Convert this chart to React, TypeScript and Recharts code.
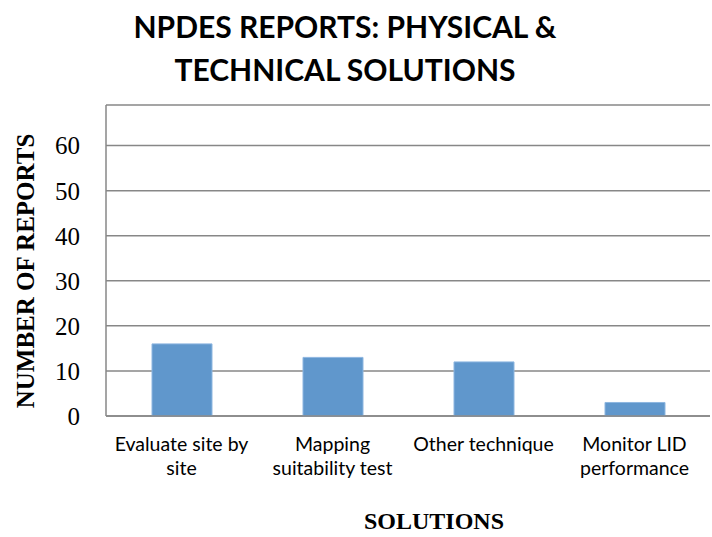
import React from "react";
import { BarChart, Bar, XAxis, YAxis, CartesianGrid } from "recharts";

const categories = ["Evaluate site by\nsite", "Mapping\nsuitability test", "Other technique", "Monitor LID\nperformance"];
const reports = [16, 13, 12, 3];
const yTicks = [0, 10, 20, 30, 40, 50, 60];
const titleLines = ["NPDES REPORTS: PHYSICAL &", "TECHNICAL SOLUTIONS"];
const yTitle = "NUMBER OF REPORTS";
const xTitle = "SOLUTIONS";

const data = categories.map((c, i) => ({ name: c, value: reports[i] }));

const XTick = (props: any) => {
  const { x, y, payload } = props;
  const lines = String(payload.value).split("\n");
  return (
    <g transform={`translate(${x},${y})`}>
      {lines.map((l, i) => (
        <text key={i} x={0} y={27 + i * 24} textAnchor="middle" fill="#000" fontFamily="Lato" fontSize={19.5}>
          {l}
        </text>
      ))}
    </g>
  );
};

const YTitle = (props: any) => {
  return (
    <text
      x={25}
      y={271}
      transform="rotate(-90, 25, 271)"
      textAnchor="middle"
      dominantBaseline="central"
      fontFamily="Liberation Serif"
      fontWeight="bold"
      fontSize={25}
      fill="#000"
    >
      {yTitle}
    </text>
  );
};

export default function App() {
  return (
    <div style={{ position: "absolute", left: 0, top: 0, width: 712, height: 537, background: "#fff" }}>
      <div
        style={{
          position: "absolute",
          left: 0,
          top: 5,
          width: 690,
          textAlign: "center",
          fontFamily: "Lato",
          fontWeight: "bold",
          fontSize: 30,
          lineHeight: "43px",
          color: "#000",
        }}
      >
        {titleLines.map((l, i) => (
          <div key={i}>{l}</div>
        ))}
      </div>
      <div
        style={{
          position: "absolute",
          left: 334,
          top: 506,
          width: 200,
          textAlign: "center",
          fontFamily: "Liberation Serif",
          fontWeight: "bold",
          fontSize: 24,
          lineHeight: "30px",
          color: "#000",
        }}
      >
        {xTitle}
      </div>
      <BarChart width={712} height={537} data={data} margin={{ top: 105, right: 2, bottom: 61, left: 0 }}>
        <CartesianGrid horizontal={true} vertical={false} stroke="#878787" strokeWidth={1.5} />
        <XAxis
          dataKey="name"
          height={60}
          stroke="#878787"
          strokeWidth={1.5}
          tickLine={false}
          tick={<XTick />}
          interval={0}
        />
        <YAxis
          width={106}
          domain={[0, 69]}
          ticks={yTicks}
          stroke="#878787"
          strokeWidth={1.5}
          tickLine={false}
          tickSize={0}
          tickMargin={26}
          tick={{ fill: "#000", fontFamily: "Liberation Serif", fontSize: 25 }}
          label={<YTitle />}
        />
        <Bar dataKey="value" fill="#6097CC" stroke="#8DB6E0" strokeWidth={1} barSize={60} isAnimationActive={false} />
      </BarChart>
    </div>
  );
}
